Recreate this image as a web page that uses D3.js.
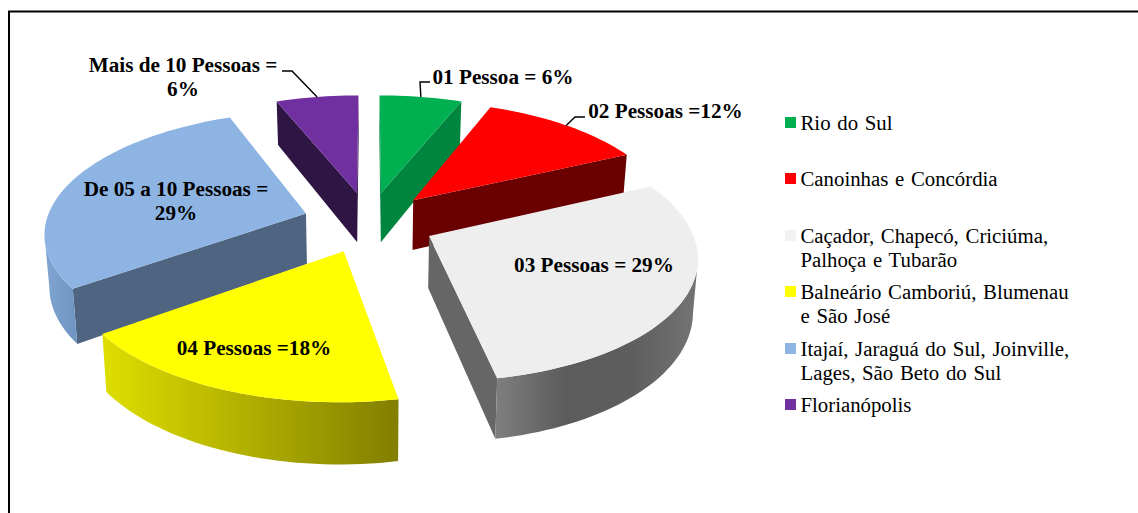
<!DOCTYPE html>
<html>
<head>
<meta charset="utf-8">
<script src="https://cdn.jsdelivr.net/npm/d3@7/dist/d3.min.js"></script>
<style>
  html, body { margin: 0; padding: 0; background: #fff; }
  svg { display: block; font-family: "Liberation Serif", serif; fill: #000; }
</style>
</head>
<body>
<svg id="chart" width="1138" height="513"></svg>
<script>
// Values, clockwise from 12 o'clock
const values = [6, 12, 29, 18, 29, 6];
const cities = [
  ["Rio do Sul"],
  ["Canoinhas e Concórdia"],
  ["Caçador, Chapecó, Criciúma,", "Palhoça e Tubarão"],
  ["Balneário Camboriú, Blumenau", "e São José"],
  ["Itajaí, Jaraguá do Sul, Joinville,", "Lages, São Beto do Sul"],
  ["Florianópolis"]
];
const sliceLabels = [
  ["01 Pessoa = 6%"],
  ["02 Pessoas =12%"],
  ["03 Pessoas = 29%"],
  ["04 Pessoas =18%"],
  ["De 05 a 10 Pessoas =", "29%"],
  ["Mais de 10 Pessoas =", "6%"]
];

// Colours: top face, radial side face, curved side gradient (left to right)
const topColors = ["#00b050", "#ff0000", "#eeeeee", "#ffff00", "#8db4e2", "#7030a0"];
const sideColors = ["#00853e", "#6b0000", "#666666", "#8a8600", "#4f6480", "#2f1544"];
const curveColors = [
  ["#00853e", "#00853e"],
  ["#6b0000", "#6b0000"],
  ["#7e7e7e", "#5c5c5c", "#5e5e5e", "#747474"],
  ["#dede00", "#b0ae00", "#827e00"],
  ["#80a5d3", "#7096c4"],
  ["#2f1544", "#2f1544"]
];
const legendColors = ["#00b050", "#ff0000", "#f2f2f2", "#ffff00", "#8db4e2", "#7030a0"];

// Label placement, in pixels: centre x and first baseline
const labelSpots = [
  { x: 503, y: 84 },
  { x: 665.5, y: 118 },
  { x: 594, y: 272 },
  { x: 254, y: 355 },
  { x: 176, y: 196 },
  { x: 183, y: 72 }
];
// Leader lines: slice index, elbow and the end next to the label
const leaders = [
  { i: 0, elbowX: 420, elbowY: 82, endX: 430 },
  { i: 1, elbowX: 575, elbowY: 117, endX: 585 },
  { i: 5, elbowX: 292, elbowY: 71, endX: 282 }
];
const legendRows = [123, 179, 236, 292, 349, 405];

const svg = d3.select("#chart");
const width = +svg.attr("width");
const height = +svg.attr("height");

// Only the top and left sides of the frame are in the picture
svg.append("path")
  .attr("d", d3.line()([[width, 11.5], [9, 11.5], [9, height]]))
  .attr("fill", "none").attr("stroke", "#000").attr("stroke-width", 2);

// Ground plane of the pie to screen: radius 1 is one pie radius
const cx = 369, cy = 222;
const xScale = d3.scaleLinear().domain([-1, 1]).range([cx - 260, cx + 260]);
const yScale = d3.scaleLinear().domain([-1, 1]).range([cy - 119.6, cy + 119.6]);
const perspective = 0.145;
const explode = 0.255;
const depth = 51;
const toBase = 0.985; // verticals lean a bit towards the centre

// Project a ground point, optionally down to the base of the slab
const project = (x, z, base) => {
  const s = 1 / (1 - perspective * z);
  const px = xScale(x * s);
  const py = yScale(z * s);
  return base ? [cx + (px - cx) * toBase, py + depth * s] : [px, py];
};

const pie = d3.pie().sort(null).value(d => d)(values);
const line = d3.line();

// Point at angle a (clockwise from top), radius r, on an exploded slice
const groundPoint = (d, a, r) => {
  const mid = (d.startAngle + d.endAngle) / 2;
  return [
    r * Math.sin(a) + explode * Math.sin(mid),
    -r * Math.cos(a) - explode * Math.cos(mid)
  ];
};

const slices = pie.map((d, i) => {
  const n = Math.max(4, Math.round((d.endAngle - d.startAngle) / 0.03));
  const arc = d3.range(n + 1).map(k => groundPoint(d, d.startAngle + (d.endAngle - d.startAngle) * k / n, 1));
  const apex = groundPoint(d, 0, 0);
  const mid = (d.startAngle + d.endAngle) / 2;
  return { d, i, arc, apex, mid, z: -Math.cos(mid) };
});

const defs = svg.append("defs");
const pieG = svg.append("g");

const quad = (a, b) => {
  const pts = [project(a[0], a[1]), project(b[0], b[1]), project(b[0], b[1], true), project(a[0], a[1], true)];
  return line(pts) + "Z";
};

// Back slices first so the front ones paint over them
slices.slice().sort((p, q) => p.z - q.z).forEach(sl => {
  const g = pieG.append("g");
  const first = sl.arc[0], last = sl.arc[sl.arc.length - 1];

  // Radial faces: show only the ones running right to left on screen
  [[sl.apex, first], [last, sl.apex]].forEach(([a, b]) => {
    if (project(b[0], b[1])[0] < project(a[0], a[1])[0] - 1) {
      g.append("path").attr("d", quad(a, b)).attr("fill", sideColors[sl.i]);
    }
  });

  // Curved face, same rule
  const front = sl.arc.filter((p, k) => {
    const prev = sl.arc[k - 1], next = sl.arc[k + 1];
    const goesLeft = (a, b) => project(b[0], b[1])[0] < project(a[0], a[1])[0];
    return (next && goesLeft(p, next)) || (prev && goesLeft(prev, p));
  });
  if (front.length) {
    const topEdge = front.map(p => project(p[0], p[1]));
    const baseEdge = front.map(p => project(p[0], p[1], true)).reverse();
    const xs = topEdge.map(p => p[0]);
    const id = "curve" + sl.i;
    const grad = defs.append("linearGradient").attr("id", id)
      .attr("gradientUnits", "userSpaceOnUse")
      .attr("x1", d3.min(xs)).attr("x2", d3.max(xs)).attr("y1", 0).attr("y2", 0);
    curveColors[sl.i].forEach((c, k, all) => {
      grad.append("stop").attr("offset", k / (all.length - 1)).attr("stop-color", c);
    });
    g.append("path").attr("d", line(topEdge.concat(baseEdge)) + "Z").attr("fill", `url(#${id})`);
  }

  // Top face
  const top = [sl.apex].concat(sl.arc).map(p => project(p[0], p[1]));
  g.append("path").attr("d", line(top) + "Z").attr("fill", topColors[sl.i]);
});

// Leader lines start on the rim at the middle of the slice
leaders.forEach(l => {
  const sl = slices[l.i];
  const rim = groundPoint(sl.d, sl.mid, 1);
  svg.append("path")
    .attr("d", line([project(rim[0], rim[1]), [l.elbowX, l.elbowY], [l.endX, l.elbowY]]))
    .attr("fill", "none").attr("stroke", "#000").attr("stroke-width", 1.4);
});

// Slice labels
sliceLabels.forEach((rows, i) => {
  const spot = labelSpots[i];
  const t = svg.append("text")
    .attr("text-anchor", "middle")
    .attr("font-size", 21.2)
    .attr("font-weight", "bold");
  rows.forEach((row, k) => {
    t.append("tspan").attr("x", spot.x).attr("y", spot.y + k * 24).text(row);
  });
});

// Legend
cities.forEach((rows, i) => {
  const y = legendRows[i];
  svg.append("rect")
    .attr("x", 785).attr("y", y - 6).attr("width", 11).attr("height", 11)
    .attr("fill", legendColors[i]);
  const t = svg.append("text").attr("font-size", 20.8).attr("word-spacing", 1.5);
  rows.forEach((row, k) => {
    t.append("tspan").attr("x", 800.5).attr("y", y + 6.5 + k * 24).text(row);
  });
});
</script>
</body>
</html>
